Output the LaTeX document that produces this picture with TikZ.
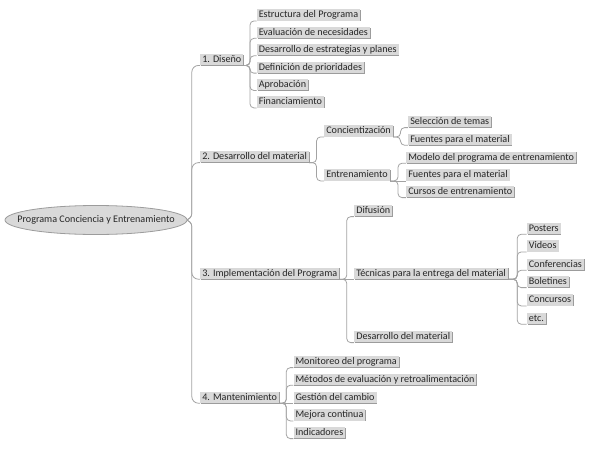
\documentclass[tikz,border=0pt]{standalone}
\usepackage{fontspec}
\setmainfont{Carlito}
\usetikzlibrary{shapes.geometric,shadows,calc,backgrounds}
\definecolor{boxc}{HTML}{D9D9D9}
\definecolor{shc}{HTML}{9C9C9C}
\definecolor{linec}{HTML}{A3A3A3}
\definecolor{txtc}{HTML}{262626}
\begin{document}
\begin{tikzpicture}[x=0.75pt,y=-0.75pt,
  font=\fontsize{7.6pt}{9pt}\selectfont, text=txtc,
  lbl/.style={fill=boxc, anchor=west, inner xsep=1.5pt, inner ysep=0.5pt,
    text height=5.9pt, text depth=1.6pt,
    drop shadow={shadow xshift=0.6pt, shadow yshift=-0.6pt, fill=shc, opacity=1}},
  rootnode/.style={ellipse, draw=shc, fill=boxc, line width=0.6pt,
    minimum width=136.5pt, minimum height=21.75pt, inner sep=0pt},
  conn/.style={draw=linec, line width=0.6pt},
  br/.style={to path={let \p1=(\tikztostart), \p2=(\tikztotarget),
      \n1={min(3pt, abs(\y2-\y1)/2.05)} in
      (\p1) [rounded corners=\n1] -- ({\x1+0.5*(\x2-\x1)},\y1)
      -- ({\x1+0.5*(\x2-\x1)},\y2) -- (\p2)}},
  rbr/.style={to path={let \p1=(\tikztostart), \p2=(\tikztotarget),
      \n1={min(5pt, abs(\y2-\y1)/2.05)} in
      (\p1) [rounded corners=\n1] -- ({\x1+0.35*(\x2-\x1)},\y1)
      -- ({\x1+0.35*(\x2-\x1)},\y2) -- (\p2)}}
]
\useasboundingbox (0,0) rectangle (593,450);

% root
\node[rootnode] (root) at (96,220) {\makebox[0pt]{Programa Conciencia y Entrenamiento}};

% level 1
\node[lbl] (d) at (200,59.5) {1. Diseño};
\node[lbl] (m) at (200,156.7) {2. Desarrollo del material};
\node[lbl] (i) at (200,273.3) {3. Implementación del Programa};
\node[lbl] (t) at (200,397.3) {4. Mantenimiento};

% Diseño
\node[lbl] (d1) at (256.5,15) {Estructura del Programa};
\node[lbl] (d2) at (256.5,32.4) {Evaluación de necesidades};
\node[lbl] (d3) at (256.5,49.8) {Desarrollo de estrategias y planes};
\node[lbl] (d4) at (256.5,67.2) {Definición de prioridades};
\node[lbl] (d5) at (256.5,84.6) {Aprobación};
\node[lbl] (d6) at (256.5,102) {Financiamiento};

% Desarrollo del material
\node[lbl] (m1) at (324,131) {Concientización};
\node[lbl] (m2) at (324,175) {Entrenamiento};
\node[lbl] (m11) at (408,121.7) {Selección de temas};
\node[lbl] (m12) at (408,139.3) {Fuentes para el material};
\node[lbl] (m21) at (406,157.3) {Modelo del programa de entrenamiento};
\node[lbl] (m22) at (406,175) {Fuentes para el material};
\node[lbl] (m23) at (406,191.7) {Cursos de entrenamiento};

% Implementación
\node[lbl] (i1) at (354,210.7) {Difusión};
\node[lbl] (i2) at (354,273.3) {Técnicas para la entrega del material};
\node[lbl] (i3) at (354,336.7) {Desarrollo del material};
\node[lbl] (i21) at (526.5,228.3) {Posters};
\node[lbl] (i22) at (526.5,246) {Videos};
\node[lbl] (i23) at (526.5,264.3) {Conferencias};
\node[lbl] (i24) at (526.5,281.7) {Boletines};
\node[lbl] (i25) at (526.5,300) {Concursos};
\node[lbl] (i26) at (526.5,318.3) {etc.};

% Mantenimiento
\node[lbl] (t1) at (293.3,361.7) {Monitoreo del programa};
\node[lbl] (t2) at (293.3,379.3) {Métodos de evaluación y retroalimentación};
\node[lbl] (t3) at (293.3,397.3) {Gestión del cambio};
\node[lbl] (t4) at (293.3,415) {Mejora continua};
\node[lbl] (t5) at (293.3,432.7) {Indicadores};

\begin{pgfonlayer}{background}
  \foreach \c in {d,m,i,t}
    \draw[conn] (root.east) to[rbr] (\c.south west);
  \foreach \c in {d1,d2,d3,d4,d5,d6}
    \draw[conn] (d.south east) to[br] (\c.south west);
  \foreach \c in {m1,m2}
    \draw[conn] (m.south east) to[br] (\c.south west);
  \foreach \c in {m11,m12}
    \draw[conn] (m1.south east) to[br] (\c.south west);
  \foreach \c in {m21,m22,m23}
    \draw[conn] (m2.south east) to[br] (\c.south west);
  \foreach \c in {i1,i2,i3}
    \draw[conn] (i.south east) to[br] (\c.south west);
  \foreach \c in {i21,i22,i23,i24,i25,i26}
    \draw[conn] (i2.south east) to[br] (\c.south west);
  \foreach \c in {t1,t2,t3,t4,t5}
    \draw[conn] (t.south east) to[br] (\c.south west);
\end{pgfonlayer}
\end{tikzpicture}
\end{document}
